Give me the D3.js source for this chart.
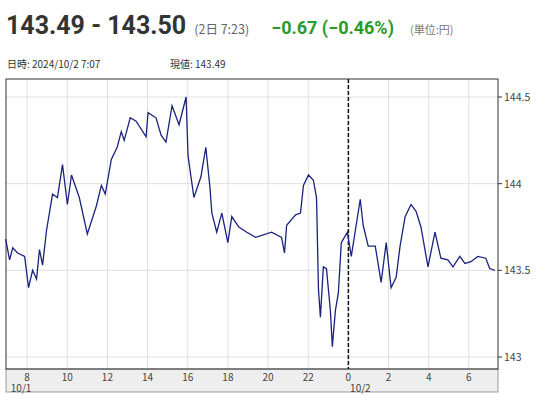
<!DOCTYPE html>
<html><head><meta charset="utf-8">
<script src="https://cdn.jsdelivr.net/npm/d3@7"></script>
<style>body{margin:0;background:#fff;font-family:"Noto Sans CJK JP","Noto Sans",sans-serif}</style>
</head><body><svg id="c" width="536" height="400"></svg>
<script>
// hours since 10/1 0:00
const hours = [6.935,7.129,7.285,7.528,7.878,8.072,8.276,8.471,8.617,8.772,8.967,9.268,9.511,9.764,10.007,10.211,10.600,10.999,11.446,11.699,11.893,12.194,12.486,12.690,12.836,13.137,13.429,13.925,14.022,14.421,14.673,14.916,15.218,15.568,15.918,16.015,16.307,16.657,16.900,17.104,17.201,17.444,17.697,17.998,18.193,18.543,18.941,19.379,20.176,20.672,20.818,20.925,21.372,21.615,21.761,22.014,22.257,22.413,22.510,22.607,22.753,22.908,23.102,23.200,23.355,23.501,23.647,23.950,24.143,24.590,24.736,24.988,25.338,25.630,25.883,26.126,26.379,26.573,26.826,27.117,27.370,27.613,27.963,28.313,28.605,28.955,29.207,29.548,29.801,30.102,30.443,30.842,31.036,31.289];
const prices = [143.68,143.56,143.63,143.60,143.58,143.40,143.50,143.45,143.62,143.53,143.73,143.94,143.92,144.11,143.88,144.05,143.92,143.71,143.87,143.99,143.94,144.14,144.21,144.30,144.25,144.38,144.36,144.27,144.41,144.38,144.28,144.24,144.45,144.34,144.50,144.16,143.92,144.04,144.21,143.98,143.83,143.72,143.83,143.66,143.81,143.75,143.72,143.69,143.72,143.69,143.60,143.76,143.82,143.83,143.99,144.05,144.02,143.92,143.39,143.23,143.52,143.51,143.27,143.06,143.27,143.37,143.66,143.72,143.58,143.91,143.76,143.64,143.64,143.43,143.66,143.40,143.46,143.64,143.81,143.88,143.84,143.75,143.52,143.72,143.57,143.56,143.52,143.58,143.54,143.55,143.58,143.57,143.51,143.50];
const xTicks = [8,10,12,14,16,18,20,22,24,26,28,30];
const yTicks = [143,143.5,144,144.5];

const svg = d3.select("#c");
const L = 6, R = 498, T = 79, B = 369;
const x = d3.scaleLinear().domain([6.95, 31.45]).range([L, R]);
const y = d3.scaleLinear().domain([143, 144.5]).range([357, 97]);

// header
const h = svg.append("text").attr("x", 6).attr("y", 34).attr("font-family", "Roboto,'Noto Sans',sans-serif");
h.append("tspan").attr("font-size", 25).attr("font-weight", "bold").attr("fill", "#333").text("143.49 - 143.50");
h.append("tspan").attr("dx", 8).attr("font-size", 12.5).attr("fill", "#666").attr("font-family", "'Noto Sans CJK JP'").text("(2日 7:23)");
h.append("tspan").attr("dx", 22).attr("font-size", 18).attr("font-weight", "bold").attr("fill", "#2a9a2a").text("−0.67 (−0.46%)");
h.append("tspan").attr("dx", 16).attr("font-size", 11).attr("fill", "#777").attr("font-family", "'Noto Sans CJK JP'").text("(単位:円)");
svg.append("text").attr("x", 7).attr("y", 68).attr("font-size", 10).attr("fill", "#333").text("日時: 2024/10/2  7:07");
svg.append("text").attr("x", 170).attr("y", 68).attr("font-size", 10).attr("fill", "#333").text("現値: 143.49");

// grid
svg.append("g").selectAll("line").data(xTicks).join("line")
  .attr("x1", d => x(d)).attr("x2", d => x(d)).attr("y1", T).attr("y2", B)
  .attr("stroke", "#e0e0e0");
svg.append("g").selectAll("line").data(yTicks).join("line")
  .attr("x1", L).attr("x2", R).attr("y1", d => y(d)).attr("y2", d => y(d))
  .attr("stroke", "#e0e0e0");

// x axis band
svg.append("rect").attr("x", L).attr("y", B).attr("width", R - L).attr("height", 23)
  .attr("fill", "#eeeeee").attr("stroke", "#999");
const xa = svg.append("g").attr("font-size", 10).attr("fill", "#444").attr("text-anchor", "middle");
xa.selectAll("text").data(xTicks).join("text")
  .attr("x", d => x(d)).attr("y", 381).text(d => d % 24);
xa.append("text").attr("x", x(8) - 6).attr("y", 392).text("10/1");
xa.append("text").attr("x", x(24) + 12).attr("y", 392).text("10/2");

// frame
svg.append("rect").attr("x", L).attr("y", T).attr("width", R - L).attr("height", B - T)
  .attr("fill", "none").attr("stroke", "#333");

// y axis labels
const ya = svg.append("g");
ya.selectAll("line").data(yTicks).join("line")
  .attr("x1", R).attr("x2", R + 4).attr("y1", d => y(d)).attr("y2", d => y(d)).attr("stroke", "#333");
ya.selectAll("text").data(yTicks).join("text")
  .attr("x", R + 6).attr("y", d => y(d) + 4).attr("font-size", 10.5).attr("fill", "#444").text(d => d);

// day divider
svg.append("line").attr("x1", x(24)).attr("x2", x(24)).attr("y1", T).attr("y2", B)
  .attr("stroke", "#111").attr("stroke-width", 1.5).attr("stroke-dasharray", "4,2");

// price line
const data = hours.map((t, i) => [t, prices[i]]);
svg.append("path").datum(data)
  .attr("d", d3.line().x(d => x(d[0])).y(d => y(d[1])))
  .attr("fill", "none").attr("stroke", "#1a237e").attr("stroke-width", 1.3);
</script></body></html>
